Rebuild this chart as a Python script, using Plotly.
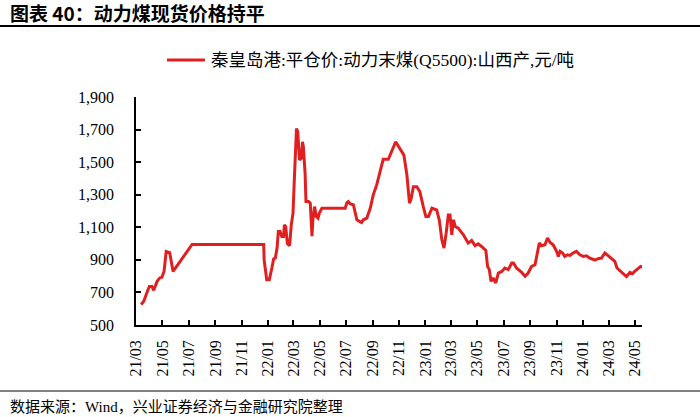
import plotly.graph_objects as go

# ---- data ----
dates = [
    "2021-03-13", "2021-03-19", "2021-03-26", "2021-04-01", "2021-04-07", "2021-04-11",
    "2021-04-19", "2021-04-25", "2021-04-30", "2021-05-05", "2021-05-10", "2021-05-18",
    "2021-05-26", "2021-07-09", "2021-12-22", "2021-12-23", "2021-12-29", "2022-01-04",
    "2022-01-10", "2022-01-14", "2022-01-18", "2022-01-22", "2022-01-25", "2022-01-29",
    "2022-02-02", "2022-02-06", "2022-02-08", "2022-02-11", "2022-02-15", "2022-02-20",
    "2022-02-24", "2022-02-28", "2022-03-03", "2022-03-08", "2022-03-11", "2022-03-15",
    "2022-03-19", "2022-03-22", "2022-03-24", "2022-03-28", "2022-03-30", "2022-04-05",
    "2022-04-09", "2022-04-13", "2022-04-15", "2022-04-19", "2022-04-23", "2022-04-27",
    "2022-04-30", "2022-05-06", "2022-06-29", "2022-07-03", "2022-07-06", "2022-07-10",
    "2022-07-18", "2022-07-26", "2022-08-02", "2022-08-06", "2022-08-10", "2022-08-18",
    "2022-08-26", "2022-09-02", "2022-09-10", "2022-09-18", "2022-09-25", "2022-10-07",
    "2022-10-15", "2022-10-24", "2022-10-30", "2022-11-07", "2022-11-12", "2022-11-19",
    "2022-11-25", "2022-11-29", "2022-12-04", "2022-12-12", "2022-12-19", "2022-12-27",
    "2023-01-02", "2023-01-08", "2023-01-16", "2023-01-27", "2023-02-02", "2023-02-08",
    "2023-02-13", "2023-02-18", "2023-02-23", "2023-02-27", "2023-03-03", "2023-03-07",
    "2023-03-11", "2023-03-18", "2023-03-30", "2023-04-10", "2023-04-18", "2023-04-26",
    "2023-05-03", "2023-05-11", "2023-05-21", "2023-05-25", "2023-05-29", "2023-06-02",
    "2023-06-07", "2023-06-13", "2023-06-19", "2023-06-27", "2023-07-04", "2023-07-12",
    "2023-07-20", "2023-07-24", "2023-07-31", "2023-08-12", "2023-08-20", "2023-08-27",
    "2023-09-04", "2023-09-12", "2023-09-17", "2023-09-22", "2023-09-27", "2023-10-05",
    "2023-10-11", "2023-10-17", "2023-10-24", "2023-11-01", "2023-11-05", "2023-11-09",
    "2023-11-15", "2023-11-20", "2023-11-26", "2023-12-02", "2023-12-09", "2023-12-17",
    "2023-12-25", "2024-01-02", "2024-01-09", "2024-01-17", "2024-01-29", "2024-02-05",
    "2024-02-13", "2024-02-21", "2024-02-29", "2024-03-07", "2024-03-15", "2024-03-20",
    "2024-03-27", "2024-04-03", "2024-04-11", "2024-04-19", "2024-04-25", "2024-04-30",
    "2024-05-08", "2024-05-14", "2024-05-18",
]
prices = [
    625, 646, 697, 737, 737, 713,
    768, 789, 793, 829, 952, 945,
    829, 995, 995, 901, 778, 778,
    850, 905, 911, 972, 1074, 1074,
    1043, 1043, 1115, 1105, 999, 987,
    1115, 1187, 1390, 1706, 1686, 1513,
    1523, 1625, 1594, 1431, 1258, 1258,
    1248, 1045, 1146, 1227, 1166, 1156,
    1187, 1217, 1217, 1252, 1258, 1245,
    1237, 1146, 1135, 1129, 1146, 1156,
    1217, 1299, 1360, 1452, 1517, 1517,
    1564, 1625, 1599, 1564, 1543, 1421,
    1248, 1278, 1349, 1349, 1319, 1227,
    1166, 1166, 1217, 1207, 1146, 1023,
    972, 1064, 1176, 1176, 1054, 1146,
    1105, 1095, 1054, 1003, 1019, 987,
    999, 982, 958, 860, 840, 768,
    789, 758, 819, 829, 850, 840,
    881, 881, 850, 823, 799, 819,
    860, 870, 942, 1003, 987, 993,
    1034, 1007, 993, 952, 921, 952,
    942, 921, 931, 927, 942, 952,
    931, 921, 925, 911, 899, 907,
    911, 942, 925, 911, 891, 850,
    834, 819, 797, 823, 815, 829,
    850, 860, 856,
]
series_name = "秦皇岛港:平仓价:动力末煤(Q5500):山西产,元/吨"
tick_dates = [
    "2021-03-01", "2021-05-01", "2021-07-01", "2021-09-01", "2021-11-01",
    "2022-01-01", "2022-03-01", "2022-05-01", "2022-07-01", "2022-09-01",
    "2022-11-01", "2023-01-01", "2023-03-01", "2023-05-01", "2023-07-01",
    "2023-09-01", "2023-11-01", "2024-01-01", "2024-03-01", "2024-05-01",
]
tick_labels = [
    "21/03", "21/05", "21/07", "21/09", "21/11",
    "22/01", "22/03", "22/05", "22/07", "22/09",
    "22/11", "23/01", "23/03", "23/05", "23/07",
    "23/09", "23/11", "24/01", "24/03", "24/05",
]
y_ticks = [500, 700, 900, 1100, 1300, 1500, 1700, 1900]
title_text = "图表 40：动力煤现货价格持平"
source_text = "数据来源：Wind，兴业证券经济与金融研究院整理"

SERIF = "Liberation Serif, Noto Sans CJK SC"
CJK = "Noto Sans CJK SC"
LINE_COLOR = "#E02020"

fig = go.Figure()
fig.add_trace(go.Scatter(
    x=dates, y=prices, mode="lines", name=series_name,
    line=dict(color=LINE_COLOR, width=3), showlegend=False,
))

# plot area geometry in px
L, R, T, B = 136, 58, 97, 92
W, H = 700, 417
pw, ph = W - L - R, H - T - B


def px_x(x):
    return (x - L) / pw


def px_y(y):
    return (H - B - y) / ph


fig.update_layout(
    template="none",
    width=W, height=H,
    margin=dict(l=L, r=R, t=T, b=B, autoexpand=False),
    paper_bgcolor="white", plot_bgcolor="white",
    showlegend=False,
    xaxis=dict(
        type="date", range=["2021-03-01", "2024-05-17"],
        tickvals=tick_dates, ticktext=tick_labels, tickangle=-90,
        ticks="inside", ticklen=5, tickwidth=1.5, tickcolor="black",
        showline=True, linecolor="black", linewidth=1.5,
        showgrid=False, zeroline=False, automargin=False,
        tickfont=dict(family=SERIF, size=16, color="black"),
        ticklabelstandoff=7,
    ),
    yaxis=dict(
        range=[500, 1900], tickvals=y_ticks, tickformat=",",
        ticks="inside", ticklen=5, tickwidth=1.5, tickcolor="black",
        showline=True, linecolor="black", linewidth=1.5,
        showgrid=False, zeroline=False, automargin=False,
        tickfont=dict(family=SERIF, size=16, color="black"),
        ticklabelstandoff=17,
    ),
    shapes=[
        # rule under the title
        dict(type="rect", xref="paper", yref="paper", layer="above",
             x0=px_x(0), x1=px_x(W), y0=px_y(25), y1=px_y(27),
             fillcolor="black", line=dict(width=0)),
        # rule above the source note
        dict(type="line", xref="paper", yref="paper", layer="above",
             x0=px_x(0), x1=px_x(W), y0=px_y(391), y1=px_y(391),
             line=dict(color="black", width=1)),
        # legend key line
        dict(type="line", xref="paper", yref="paper", layer="above",
             x0=px_x(167), x1=px_x(205), y0=px_y(60), y1=px_y(60),
             line=dict(color=LINE_COLOR, width=3)),
    ],
    annotations=[
        dict(text="<b>" + title_text + "</b>", xref="paper", yref="paper",
             x=px_x(8), xanchor="left", y=px_y(13), yanchor="middle",
             showarrow=False, font=dict(family=CJK, size=19, color="black")),
        dict(text=series_name, xref="paper", yref="paper",
             x=px_x(209), xanchor="left", y=px_y(60), yanchor="middle",
             showarrow=False, font=dict(family=SERIF, size=17.5, color="black")),
        dict(text=source_text, xref="paper", yref="paper",
             x=px_x(8), xanchor="left", y=px_y(406), yanchor="middle",
             showarrow=False, font=dict(family=SERIF, size=15, color="black")),
    ],
)

fig.write_html(
    "out.html",
    config={"displayModeBar": False},
    post_script="document.body.style.margin='0';document.body.style.padding='0';",
)
